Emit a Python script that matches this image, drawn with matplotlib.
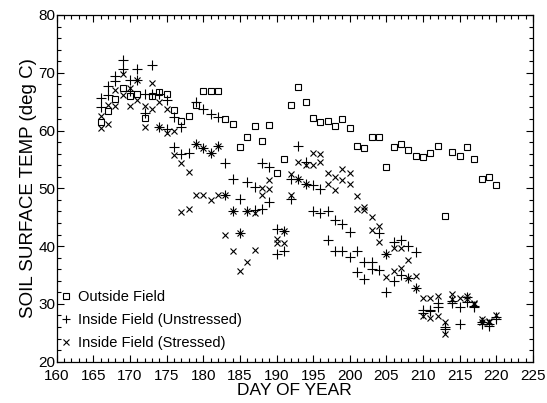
import numpy as np
import matplotlib.pyplot as plt

plt.rcParams['font.family'] = ['Liberation Sans', 'DejaVu Sans']

# outside field, one reading per day
out_days = list(range(166, 221))
out_temp = [61.5, 63.4, 65.4, 67.4, 66.0, 66.4, 62.1, 66.0, 66.6, 66.4,
            63.5, 61.7, 62.6, 64.4, 66.9, 66.9, 66.9, 62.0, 61.1, 57.1,
            58.8, 60.8, 58.2, 61.0, 52.6, 55.1, 64.4, 67.6, 65.0, 62.1,
            61.5, 61.7, 60.8, 62.0, 60.5, 57.3, 57.0, 58.9, 58.8, 53.7,
            57.1, 57.7, 56.6, 55.6, 55.5, 56.1, 57.3, 45.2, 56.3, 55.6,
            57.2, 55.1, 51.6, 52.0, 50.6]

# inside field (unstressed)
uns_days = [166, 166, 167, 167, 168, 168, 169, 169, 170, 170, 171, 171,
            172, 172, 173, 173, 174, 174, 175, 175, 176, 176, 177, 177,
            178, 179, 179, 180, 180, 181, 181, 182, 182, 183, 183,
            184, 184, 185, 185, 186, 186, 187, 187, 188, 188, 189, 189,
            190, 190, 191, 191, 192, 192, 193, 193, 194, 194, 195, 195,
            196, 196, 197, 197, 198, 198, 199, 199, 200, 200, 201, 201,
            202, 202, 203, 203, 204, 204, 205, 205, 206, 206, 207, 207,
            208, 208, 209, 209, 210, 210, 211, 211, 212, 212, 213, 213,
            214, 214, 215, 215, 216, 216, 217, 217, 218, 218, 219, 219,
            220, 220]
uns_temp = [65.6, 64.1, 67.7, 66.1, 69.5, 68.6, 72.2, 70.6, 68.8, 66.9,
            70.6, 68.8, 66.3, 63.0, 71.3, 66.3, 66.3, 60.7, 65.3, 60.3,
            62.4, 57.2, 60.7, 55.9, 56.2, 65.0, 57.6, 63.8, 56.9, 62.8,
            56.2, 62.3, 57.3, 54.3, 48.9, 51.7, 46.1, 48.2, 42.2, 51.1,
            46.1, 50.3, 46.2, 54.4, 46.5, 53.7, 47.6, 42.9, 38.6, 42.6,
            39.2, 51.7, 48.2, 57.3, 51.7, 54.6, 50.7, 50.5, 46.0, 49.9,
            45.8, 46.0, 41.1, 44.5, 39.2, 43.8, 39.2, 42.4, 38.1, 39.2,
            35.5, 37.3, 34.3, 37.3, 36.0, 42.3, 35.9, 38.6, 32.0, 40.7,
            33.9, 41.1, 35.0, 40.1, 34.5, 38.9, 32.7, 29.0, 28.5, 29.0,
            28.8, 30.1, 29.4, 26.0, 25.6, 30.5, 30.2, 29.4, 26.6, 31.2,
            30.3, 29.5, 29.7, 26.6, 26.9, 26.2, 26.5, 27.4, 27.8]

# inside field (stressed)
str_days = [166, 166, 167, 167, 168, 168, 169, 169, 170, 170, 171, 171,
            172, 172, 173, 173, 174, 174, 175, 175, 176, 176, 177, 177,
            178, 178, 179, 179, 180, 180, 181, 181, 182, 182, 183, 183,
            184, 184, 185, 185, 186, 186, 187, 187, 188, 188, 189, 189,
            190, 190, 191, 191, 192, 192, 193, 193, 194, 194, 195, 195,
            196, 196, 197, 197, 198, 198, 199, 199, 200, 200, 201, 201,
            202, 202, 203, 203, 204, 204, 205, 205, 206, 206, 207, 207,
            208, 208, 209, 209, 210, 210, 211, 211, 212, 212, 213, 213,
            214, 214, 215, 216, 216, 217, 217, 218, 218, 219, 219, 220]
str_temp = [62.6, 60.4, 64.4, 61.2, 67.0, 64.2, 69.8, 66.2, 67.4, 64.2,
            68.8, 65.3, 64.2, 60.7, 68.2, 63.8, 65.0, 60.7, 63.7, 59.5,
            59.9, 55.7, 54.3, 45.9, 52.8, 46.5, 57.6, 48.8, 56.9, 48.8,
            56.2, 48.0, 57.3, 48.8, 48.9, 41.9, 46.1, 39.2, 42.2, 35.7,
            46.1, 37.3, 45.8, 39.3, 50.0, 48.8, 51.5, 49.8, 41.2, 40.6,
            42.6, 40.6, 52.5, 48.9, 54.5, 51.7, 54.0, 50.7, 56.1, 54.0,
            56.0, 54.5, 52.6, 50.8, 52.0, 49.7, 53.3, 51.5, 52.6, 50.8,
            48.7, 46.5, 46.7, 46.3, 45.1, 42.8, 43.4, 40.8, 38.6, 34.6,
            39.6, 35.7, 39.6, 36.3, 37.6, 34.5, 34.8, 32.7, 31.1, 27.9,
            31.0, 27.5, 31.3, 27.9, 26.9, 24.8, 31.8, 30.9, 31.0, 31.3,
            30.9, 29.9, 30.2, 27.4, 26.9, 26.8, 27.0, 28.1]

fig = plt.figure(figsize=(5.47, 4.03), dpi=100)
ax = fig.add_axes([0.1035, 0.1025, 0.871, 0.8603])

ax.plot(out_days, out_temp, linestyle='none', marker='s', markersize=5,
        markerfacecolor='none', markeredgecolor='black', markeredgewidth=0.8,
        label='Outside Field')
ax.plot(uns_days, uns_temp, linestyle='none', marker='+', markersize=7,
        color='black', markeredgewidth=0.8, label='Inside Field (Unstressed)')
ax.plot(str_days, str_temp, linestyle='none', marker='x', markersize=5,
        color='black', markeredgewidth=0.8, label='Inside Field (Stressed)')

ax.set_xlim(160, 225)
ax.set_ylim(20, 80)
ax.set_xticks(np.arange(160, 226, 5))
ax.set_xticks(np.arange(160, 226, 1), minor=True)
ax.set_yticks(np.arange(20, 81, 10))
ax.set_yticks(np.arange(20, 81, 2), minor=True)
ax.tick_params(which='both', direction='in', top=True, right=True,
               width=0.8, labelsize=11)
ax.tick_params(axis='x', pad=5.5)
ax.tick_params(axis='y', pad=1)
ax.tick_params(which='major', length=5)
ax.tick_params(which='minor', length=3)
for s in ax.spines.values():
    s.set_linewidth(0.9)

ax.set_xlabel('DAY OF YEAR', fontsize=12.5, labelpad=0)
ax.set_ylabel('SOIL SURFACE TEMP (deg C)', fontsize=13.5, labelpad=1)

ax.legend(loc='lower left', frameon=False, fontsize=10.5, markerscale=0.75,
          handlelength=0.6, handletextpad=0.5, labelspacing=0.62,
          borderaxespad=0.3, bbox_to_anchor=(-0.01, 0.005))

fig.savefig('out.png', dpi=100)
